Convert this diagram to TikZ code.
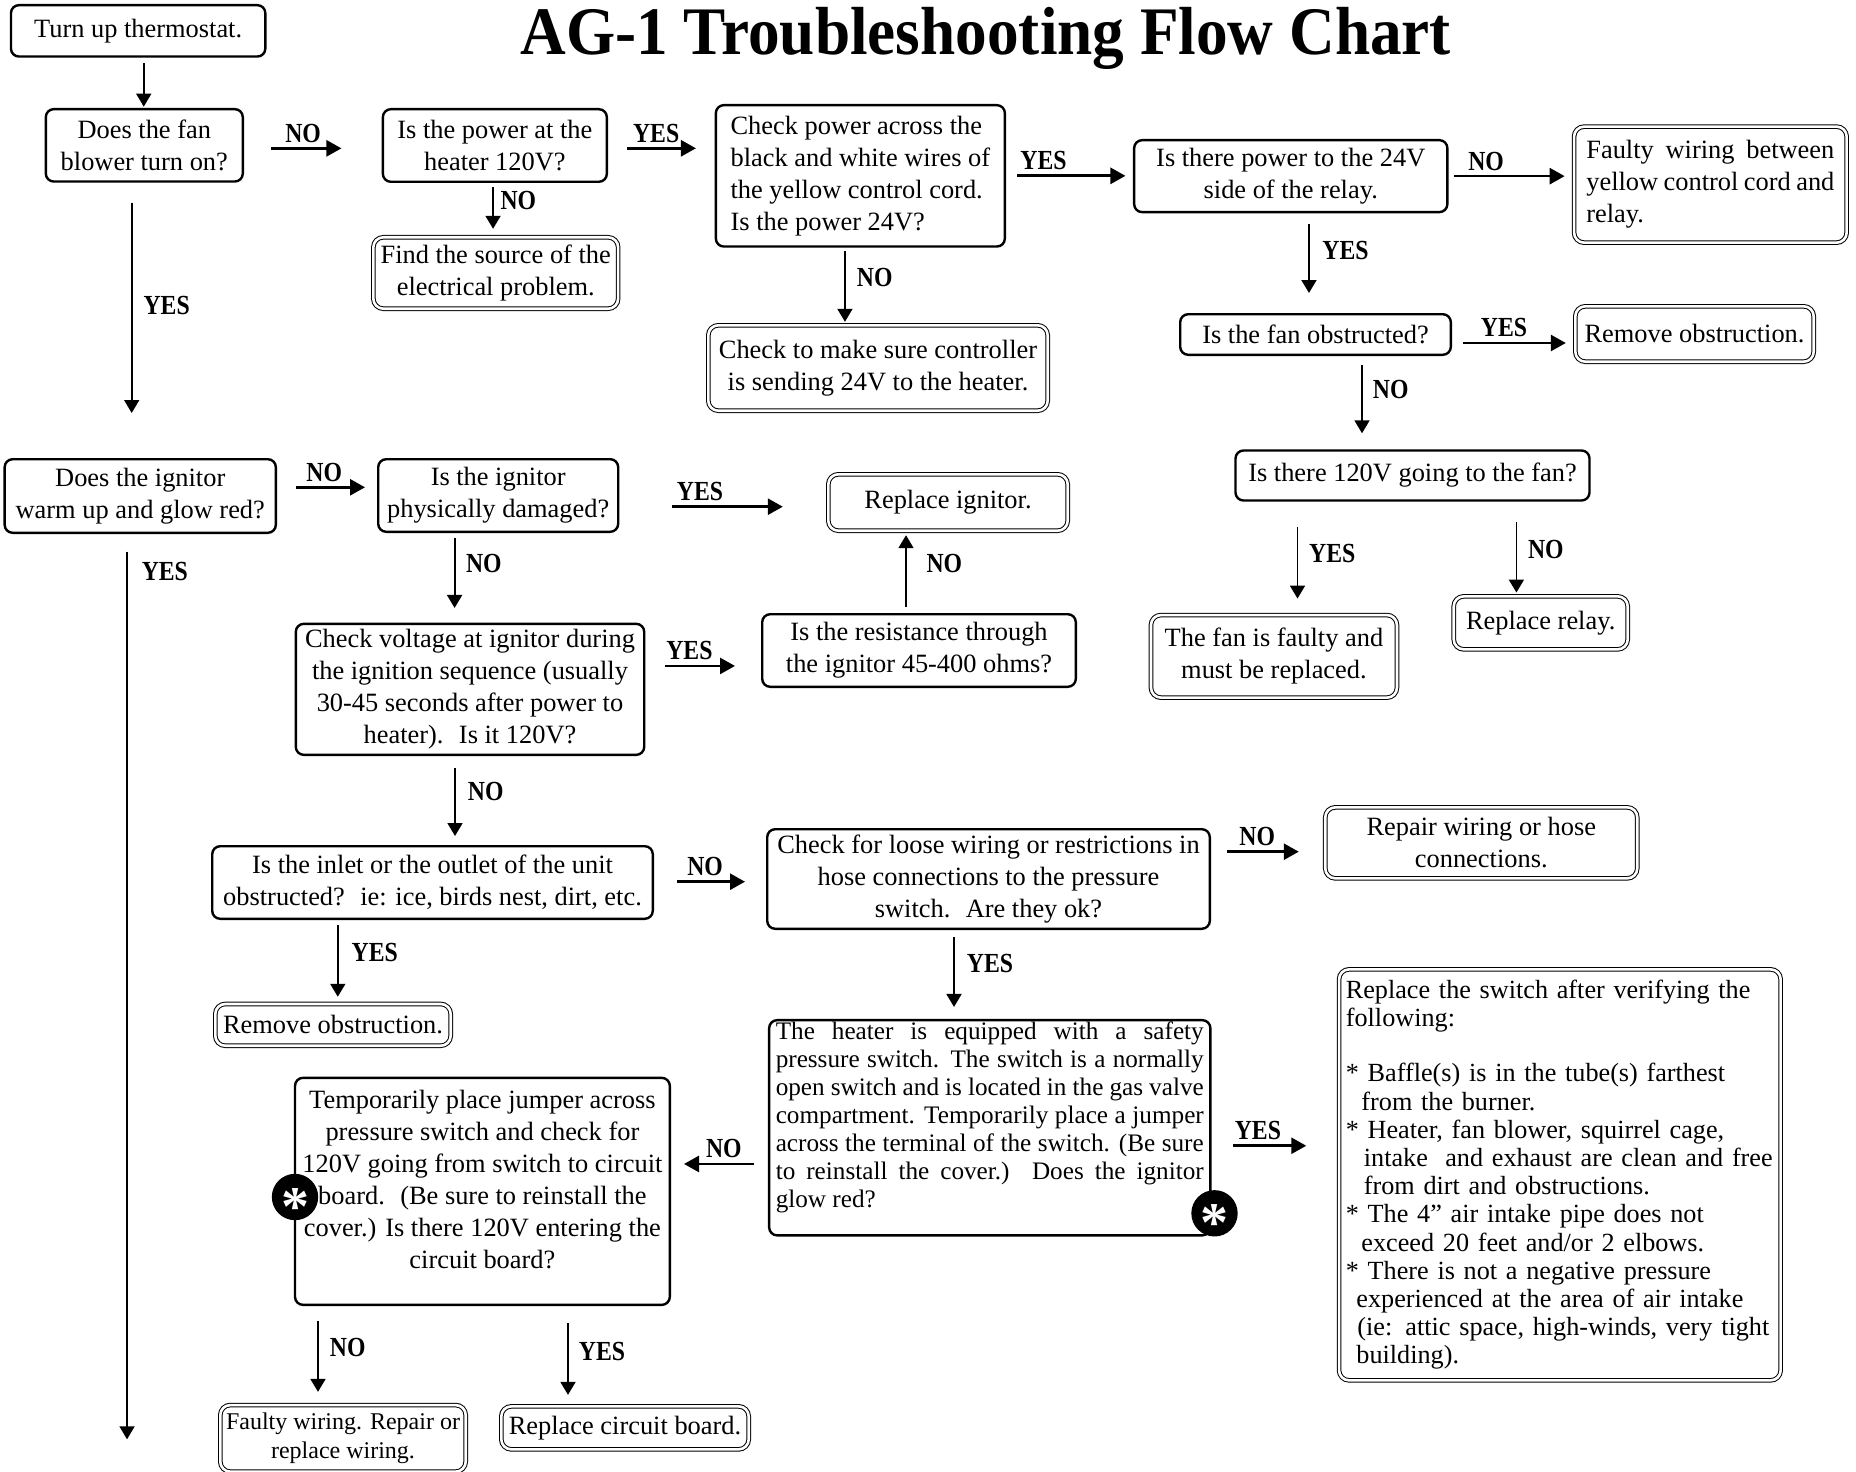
\documentclass[tikz,border=0pt]{standalone}
\usepackage{fontspec}
\setmainfont{Liberation Serif}
\newfontfamily\labfont{Liberation Serif}[FakeStretch=0.86]
\newfontfamily\titlefont{Liberation Serif}[FakeStretch=0.93]
\usetikzlibrary{arrows.meta}
\tikzset{
  dec/.style={draw, line width=1.2pt, rounded corners=4pt, inner sep=0pt, align=center, font=\fontsize{13.2}{16}\selectfont},
  decplain/.style={draw, line width=1.2pt, rounded corners=4pt, inner sep=0pt},
  term/.style={draw, line width=0.5pt, double, double distance=1.3pt, rounded corners=5pt, inner sep=0pt, align=center, font=\fontsize{13.2}{16}\selectfont},
  harr/.style={line width=1.35pt, -{Triangle[length=7.5pt,width=8pt]}},
  varr/.style={line width=0.9pt, -{Triangle[length=6.5pt,width=7.5pt]}},
  lab/.style={font=\labfont\bfseries\fontsize{13.8}{15}\selectfont, inner sep=1pt},
  hlab/.style={lab, pos=0, anchor=south west, yshift=1.2pt},
  starmark/.style={circle, fill=black, minimum size=20pt, inner sep=0pt, text=white, font=\bfseries\fontsize{28}{28}\selectfont},
}
\begin{document}
\begin{tikzpicture}[x=0.5pt,y=-0.5pt]
\useasboundingbox (0,0) rectangle (1856,1471);

% title
\node[anchor=base, inner sep=0pt, font=\titlefont\bfseries\fontsize{34}{36}\selectfont] (title) at (985.8,55) {AG-1 Troubleshooting Flow Chart};

% nodes
\node[dec, minimum width=127.2pt, minimum height=25.7pt] (thermo) at (138.15,30.85) {Turn up thermostat.};
\node[dec, minimum width=98.5pt, minimum height=36.2pt] (fan) at (144.3,145.35) {Does the fan\\blower turn on?};
\node[dec, minimum width=112pt, minimum height=36.3pt] (power) at (494.85,145.5) {Is the power at the\\heater 120V?};
\node[term, minimum width=122.4pt, minimum height=35.7pt] (source) at (495.75,273) {Find the source of the\\electrical problem.};
\node[dec, align=left, minimum width=144.5pt, minimum height=70.7pt] (check24) at (860.35,175.85) {Check power across the\\black and white wires of\\the yellow control cord.\\Is the power 24V?};
\node[term, minimum width=169.7pt, minimum height=42.7pt] (ctrl) at (878,368) {Check to make sure controller\\is sending 24V to the heater.};
\node[dec, minimum width=156.6pt, minimum height=36pt] (relay24) at (1290.75,176.15) {Is there power to the 24V\\side of the relay.};
\node[term, align=left, minimum width=136.3pt, minimum height=58pt] (faultyY) at (1710.35,184.65) {\makebox[124pt][s]{Faulty wiring between}\\\makebox[124pt][s]{yellow control cord and}\\relay.};
\node[dec, minimum width=135.3pt, minimum height=20.3pt] (fanobs) at (1315.5,334.5) {Is the fan obstructed?};
\node[term, minimum width=119.2pt, minimum height=27.7pt] (removeR) at (1694.5,334) {Remove obstruction.};
\node[dec, minimum width=177pt, minimum height=25pt] (v120) at (1412.5,475.5) {Is there 120V going to the fan?};
\node[term, minimum width=123pt, minimum height=41.3pt] (fanfaulty) at (1273.95,656.35) {The fan is faulty and\\must be replaced.};
\node[term, minimum width=87pt, minimum height=26.5pt] (relayrep) at (1540.7,622.85) {Replace relay.};
\node[dec, minimum width=135.6pt, minimum height=36.8pt] (ignitor) at (140.25,496) {Does the ignitor\\warm up and glow red?};
\node[dec, minimum width=120pt, minimum height=36.3pt] (damaged) at (498.2,495.5) {Is the ignitor\\physically damaged?};
\node[term, minimum width=119.7pt, minimum height=28.2pt] (repign) at (948,502.5) {Replace ignitor.};
\node[dec, minimum width=156.8pt, minimum height=36.3pt] (resist) at (919,650.5) {Is the resistance through\\the ignitor 45-400 ohms?};
\node[dec, minimum width=174.2pt, minimum height=65.5pt] (voltage) at (470,689.35) {Check voltage at ignitor during\\the ignition sequence (usually\\30-45 seconds after power to\\heater).~ Is it 120V?};
\node[dec, minimum width=220.3pt, minimum height=36.3pt] (inlet) at (432.5,882.5) {Is the inlet or the outlet of the unit\\obstructed?~ ie: ice, birds nest, dirt, etc.};
\node[dec, minimum width=221.3pt, minimum height=49.8pt] (loose) at (988.5,879) {Check for loose wiring or restrictions in\\hose connections to the pressure\\switch.~ Are they ok?};
\node[term, minimum width=156pt, minimum height=35.5pt] (repairhose) at (1481.25,842.85) {Repair wiring or hose\\connections.};
\node[term, minimum width=117.7pt, minimum height=20.9pt] (removeL) at (333,1024.85) {Remove obstruction.};
\node[decplain, minimum width=220.6pt, minimum height=107.6pt, font=\fontsize{12.6}{14}\selectfont] (heater) at (989.75,1127.75) {\raisebox{4.7pt}[\height][\depth]{\begin{tabular}{@{}l@{}}
\makebox[214pt][s]{The heater is equipped with a safety}\\
\makebox[214pt][s]{pressure switch. The switch is a normally}\\
\makebox[214pt][s]{open switch and is located in the gas valve}\\
\makebox[214pt][s]{compartment. Temporarily place a jumper}\\
\makebox[214pt][s]{across the terminal of the switch. (Be sure}\\
\makebox[214pt][s]{to reinstall the cover.) Does the ignitor}\\
glow red?
\end{tabular}}};
\node[decplain, minimum width=187.4pt, minimum height=113.5pt, font=\fontsize{13.2}{16}\selectfont] (jumper) at (482.4,1191.35) {\raisebox{4.85pt}[\height][\depth]{\begin{tabular}{@{}c@{}}
Temporarily place jumper across\\
pressure switch and check for\\
120V going from switch to circuit\\
board.~ (Be sure to reinstall the\\
cover.) Is there 120V entering the\\
circuit board?
\end{tabular}}};
\node[term, align=left, text width=214pt, minimum width=220.8pt, minimum height=205.5pt, font=\fontsize{13.1}{14.1}\selectfont] (replsw) at (1559.85,1174.85) {Replace the switch after verifying the\\
following:\\[13.4pt]
{*} Baffle(s) is in the tube(s) farthest\\
\hspace*{7.8pt}from the burner.\\
{*} Heater, fan blower, squirrel cage,\\
\hspace*{9pt}intake~ and exhaust are clean and free\\
\hspace*{9pt}from dirt and obstructions.\\
{*} The 4” air intake pipe does not\\
\hspace*{7.8pt}exceed 20 feet and/or 2 elbows.\\
{*} There is not a negative pressure\\
\hspace*{5.3pt}experienced at the area of air intake\\
\hspace*{5.8pt}(ie: attic space, high-winds, very tight\\
\hspace*{5.3pt}building).};
\node[term, minimum width=122.7pt, minimum height=33.3pt, font=\fontsize{12}{14.2}\selectfont] (faultyW) at (343,1438.35) {Faulty wiring. Repair or\\replace wiring.};
\node[term, minimum width=123.7pt, minimum height=21.5pt] (repboard) at (625,1427.85) {Replace circuit board.};

\node[starmark] (star1) at (295,1197) {\raisebox{-5pt}[\height][\depth]{*}};
\node[starmark] (star2) at (1214.5,1213.3) {\raisebox{-5pt}[\height][\depth]{*}};

\coordinate (yesend) at (127,1439.3);

% connectors
\draw[varr] ([xshift=2.8pt,yshift=-2.8pt]thermo.south) -- ([xshift=2.8pt,yshift=0.65pt]thermo.south |- fan.north);
\draw[harr] ([xshift=13.5pt,yshift=-1.5pt]fan.east) -- ([xshift=-20.1pt,yshift=-1.5pt]fan.east -| power.west) node[hlab,xshift=5.5pt] (l1) {NO};
\draw[varr] ([xshift=-6.3pt,yshift=-10pt]fan.south) -- ([xshift=-6.3pt,yshift=22.5pt]fan.south |- ignitor.north) node[lab,pos=0.49,right=4.5pt] (l2) {YES};
\draw[harr] ([xshift=9.5pt,yshift=-1.4pt]power.east) -- ([xshift=-9.35pt,yshift=-1.4pt]power.east -| check24.west) node[hlab,xshift=1.35pt] (l3) {YES};
\draw[varr] ([xshift=-0.9pt,yshift=-2pt]power.south) -- ([xshift=-0.9pt,yshift=4pt]power.south |- source.north) node[lab,pos=0.33,right=2.3pt] (l4) {NO};
\draw[harr] ([xshift=5.5pt]check24.east) -- ([xshift=-3.75pt]check24.east -| relay24.west) node[hlab] (l5) {YES};
\draw[varr] ([xshift=-7.7pt,yshift=-1.65pt]check24.south) -- ([xshift=-7.7pt,yshift=1.5pt]check24.south |- ctrl.north) node[lab,pos=0.37,right=4.5pt] (l6) {NO};
\draw[harr] ([xshift=2.6pt]relay24.east) -- ([xshift=-4.45pt]relay24.east -| faultyY.west) node[hlab,xshift=5.6pt] (l7) {NO};
\draw[varr] ([xshift=9.1pt,yshift=-5.35pt]relay24.south) -- ([xshift=9.1pt,yshift=10pt]relay24.south |- fanobs.north) node[lab,pos=0.38,right=5.25pt] (l8) {YES};
\draw[harr] ([xshift=5.5pt,yshift=-4.25pt]fanobs.east) -- ([xshift=-4.5pt,yshift=-4.25pt]fanobs.east -| removeR.west) node[hlab,xshift=7.25pt] (l9) {YES};
\draw[varr] ([xshift=23.25pt,yshift=-4.5pt]fanobs.south) -- ([xshift=23.25pt,yshift=8pt]fanobs.south |- v120.north) node[lab,pos=0.36,right=4pt] (l10) {NO};
\draw[varr] ([xshift=-57.5pt,yshift=-12.5pt]v120.south) -- ([xshift=-57.5pt,yshift=8pt]v120.south |- fanfaulty.north) node[lab,pos=0.37,right=4.35pt] (l11) {YES};
\draw[varr] ([xshift=51.95pt,yshift=-10.3pt]v120.south) -- ([xshift=51.95pt,yshift=1.65pt]v120.south |- relayrep.north) node[lab,pos=0.39,right=4.35pt] (l12) {NO};
\draw[harr] ([xshift=9.5pt,yshift=4.35pt]ignitor.east) -- ([xshift=-6pt,yshift=4.35pt]ignitor.east -| damaged.west) node[hlab,xshift=3.5pt] (l13) {NO};
\draw[varr] ([xshift=-6.6pt,yshift=-8.85pt]ignitor.south) -- ([xshift=-6.6pt]ignitor.south |- yesend) node[lab,pos=0.0225,right=5.9pt] (l14) {YES};
\draw[harr] ([xshift=26.3pt,yshift=-5.6pt]damaged.east) -- ([xshift=-22.5pt,yshift=-5.6pt]damaged.east -| repign.west) node[hlab,xshift=0.8pt] (l15) {YES};
\draw[varr] ([xshift=-21.8pt,yshift=-2.5pt]damaged.south) -- ([xshift=-21.8pt,yshift=7.35pt]damaged.south |- voltage.north) node[lab,pos=0.37,right=4.25pt] (l16) {NO};
\draw[varr] ([xshift=-6.5pt,yshift=3pt]resist.north) -- ([xshift=-6.5pt,yshift=-2pt]resist.north |- repign.south) node[lab,pos=0.61,right=8.8pt] (l17) {NO};
\draw[harr] ([xshift=9.8pt,yshift=11.7pt]voltage.east) -- ([xshift=-13pt,yshift=11.7pt]voltage.east -| resist.west) node[hlab,xshift=-1pt] (l18) {YES};
\draw[varr] ([xshift=-7.5pt,yshift=-6pt]voltage.south) -- ([xshift=-7.5pt,yshift=4.5pt]voltage.south |- inlet.north) node[lab,pos=0.35,right=5pt] (l19) {NO};
\draw[harr] ([xshift=11.5pt,yshift=0.4pt]inlet.east) -- ([xshift=-10.5pt,yshift=0.4pt]inlet.east -| loose.west) node[hlab,xshift=3.5pt] (l20) {NO};
\draw[varr] ([xshift=-47.35pt,yshift=-2.5pt]inlet.south) -- ([xshift=-47.35pt,yshift=3.35pt]inlet.south |- removeL.north) node[lab,pos=0.38,right=5.5pt] (l21) {YES};
\draw[harr] ([xshift=8pt,yshift=13.65pt]loose.east) -- ([xshift=-13pt,yshift=13.65pt]loose.east -| repairhose.west) node[hlab,xshift=4.5pt] (l22) {NO};
\draw[varr] ([xshift=-17.25pt,yshift=-3.5pt]loose.south) -- ([xshift=-17.25pt,yshift=6pt]loose.south |- heater.north) node[lab,pos=0.38,right=5pt] (l23) {YES};
\draw[harr] ([xshift=-7pt,yshift=-18.1pt]heater.west) -- ([xshift=6.5pt,yshift=-18.1pt]heater.west -| jumper.east) node[lab,pos=0,anchor=south east,xshift=-4.5pt,yshift=1.2pt] (l24) {NO};
\draw[harr] ([xshift=10.95pt,yshift=-9pt]heater.east) -- ([xshift=-16.15pt,yshift=-9pt]heater.east -| replsw.west) node[hlab,xshift=-1pt] (l25) {YES};
\draw[varr] ([xshift=-82.2pt,yshift=-7.35pt]jumper.south) -- ([xshift=-82.2pt,yshift=6.35pt]jumper.south |- faultyW.north) node[lab,pos=0.375,right=4.5pt] (l26) {NO};
\draw[varr] ([xshift=42.8pt,yshift=-8.5pt]jumper.south) -- ([xshift=42.8pt,yshift=5.5pt]jumper.south |- repboard.north) node[lab,pos=0.39,right=4pt] (l27) {YES};
\end{tikzpicture}
\end{document}
